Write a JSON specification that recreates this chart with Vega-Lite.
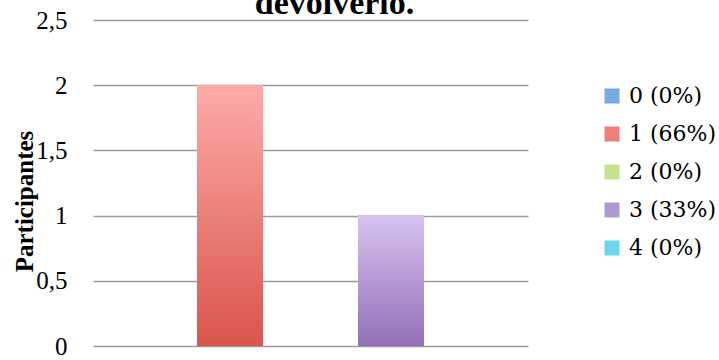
{
  "$schema": "https://vega.github.io/schema/vega-lite/v6.json",
  "width": 435,
  "height": 326,
  "autosize": "none",
  "padding": {"left": 93, "top": 20, "right": 191, "bottom": 14},
  "background": "white",
  "title": {
    "text": "devolverlo.",
    "font": "Liberation Serif",
    "fontWeight": "bold",
    "fontSize": 34,
    "color": "black",
    "anchor": "middle",
    "frame": "group",
    "baseline": "alphabetic",
    "offset": -40,
    "dx": 24
  },
  "data": {
    "values": [
      {"serie": "\u00a00 (0%)", "valor": 0},
      {"serie": "1 (66%)", "valor": 2},
      {"serie": "2 (0%)", "valor": 0},
      {"serie": "3 (33%)", "valor": 1},
      {"serie": "4 (0%)", "valor": 0}
    ]
  },
  "encoding": {
    "x": {
      "field": "serie",
      "type": "nominal",
      "sort": null,
      "axis": null,
      "scale": {"paddingInner": 0.18, "paddingOuter": 0.292}
    },
    "y": {
      "field": "valor",
      "type": "quantitative",
      "scale": {"domain": [0, 2.5], "nice": false},
      "axis": {
        "values": [0, 0.5, 1, 1.5, 2, 2.5],
        "labelExpr": "replace(toString(datum.value), '.', ',')",
        "grid": true,
        "gridColor": "#9a9a9a",
        "gridWidth": 1.5,
        "domain": false,
        "ticks": false,
        "labelFont": "Liberation Serif",
        "labelFontSize": 25,
        "labelColor": "black",
        "labelPadding": 26,
        "title": "Participantes",
        "titleFont": "Liberation Serif",
        "titleFontWeight": "bold",
        "titleFontSize": 25,
        "titleColor": "black",
        "titleAngle": 270,
        "titleAlign": "center",
        "titleBaseline": "alphabetic",
        "titleX": -61,
        "titleY": 181
      }
    }
  },
  "layer": [
    {
      "mark": {"type": "bar"},
      "encoding": {
        "color": {
          "field": "serie",
          "type": "nominal",
          "sort": null,
          "scale": {
            "domain": ["\u00a00 (0%)", "1 (66%)", "2 (0%)", "3 (33%)", "4 (0%)"],
            "range": ["#78a9e4", "#ee7e77", "#c6e190", "#ae98d3", "#6bd6ec"]
          },
          "legend": {
            "title": null,
            "orient": "none",
            "legendX": 508,
            "legendY": 65,
            "symbolType": "square",
            "symbolSize": 225,
            "symbolStrokeWidth": 0,
            "symbolOpacity": 1,
            "labelFont": "DejaVu Serif",
            "labelFontSize": 22,
            "labelColor": "black",
            "labelOffset": 6,
            "rowPadding": 16,
            "labelLimit": 200
          }
        }
      }
    },
    {
      "transform": [{"filter": "datum.serie === '1 (66%)'"}],
      "mark": {
        "type": "bar",
        "fill": {
          "gradient": "linear",
          "x1": 0, "y1": 0, "x2": 0, "y2": 1,
          "stops": [
            {"offset": 0, "color": "#fdaba8"},
            {"offset": 1, "color": "#d9554b"}
          ]
        }
      },
      "encoding": {}
    },
    {
      "transform": [{"filter": "datum.serie === '3 (33%)'"}],
      "mark": {
        "type": "bar",
        "fill": {
          "gradient": "linear",
          "x1": 0, "y1": 0, "x2": 0, "y2": 1,
          "stops": [
            {"offset": 0, "color": "#d6c3f0"},
            {"offset": 1, "color": "#9470b8"}
          ]
        }
      },
      "encoding": {}
    }
  ],
  "config": {"view": {"stroke": null}}
}
